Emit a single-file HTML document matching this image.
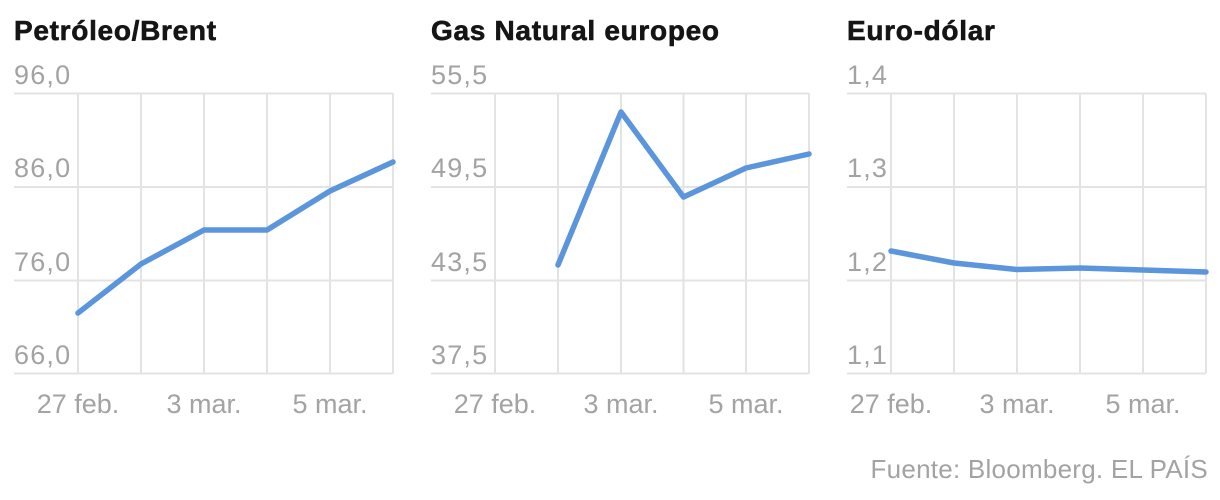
<!DOCTYPE html>
<html><head><meta charset="utf-8"><style>
html,body{margin:0;padding:0;background:#fff;}
svg{display:block;}
.t{font-family:"Liberation Sans",sans-serif;font-weight:bold;font-size:28px;fill:#151515;stroke:#151515;stroke-width:0.6px;letter-spacing:0.7px;}
.y{font-family:"Liberation Sans",sans-serif;font-size:27px;fill:#a3a3a3;letter-spacing:1.2px;}
.x{font-family:"Liberation Sans",sans-serif;font-size:27px;fill:#a3a3a3;}
.s{font-family:"Liberation Sans",sans-serif;font-size:26px;fill:#a3a3a3;letter-spacing:0.25px;}
.g{stroke:#e3e3e3;stroke-width:2;fill:none;}
.l{stroke:#5b95db;stroke-width:5.5;fill:none;stroke-linejoin:round;stroke-linecap:round;}
</style></head><body>
<svg width="1220" height="500" viewBox="0 0 1220 500" xmlns="http://www.w3.org/2000/svg">
<!-- Panel 1 -->
<text class="t" x="14" y="40">Petróleo/Brent</text>
<g class="g">
<line x1="14" y1="93.5" x2="393" y2="93.5"/>
<line x1="14" y1="187" x2="393" y2="187"/>
<line x1="14" y1="280.5" x2="393" y2="280.5"/>
<line x1="14" y1="373.5" x2="393" y2="373.5"/>
<line x1="78" y1="93.5" x2="78" y2="373.5"/>
<line x1="141" y1="93.5" x2="141" y2="373.5"/>
<line x1="204" y1="93.5" x2="204" y2="373.5"/>
<line x1="267" y1="93.5" x2="267" y2="373.5"/>
<line x1="330" y1="93.5" x2="330" y2="373.5"/>
<line x1="393" y1="93.5" x2="393" y2="373.5"/>
</g>
<text class="y" x="14" y="84">96,0</text>
<text class="y" x="14" y="177">86,0</text>
<text class="y" x="14" y="271">76,0</text>
<text class="y" x="14" y="364">66,0</text>
<text class="x" x="78" y="413" text-anchor="middle">27 feb.</text>
<text class="x" x="204" y="413" text-anchor="middle">3 mar.</text>
<text class="x" x="330" y="413" text-anchor="middle">5 mar.</text>
<polyline class="l" points="78,313 141,264 204,230 267,230 330,191 393,162"/>

<!-- Panel 2 -->
<text class="t" x="431" y="40">Gas Natural europeo</text>
<g class="g">
<line x1="431" y1="93.5" x2="809" y2="93.5"/>
<line x1="431" y1="187" x2="809" y2="187"/>
<line x1="431" y1="280.5" x2="809" y2="280.5"/>
<line x1="431" y1="373.5" x2="809" y2="373.5"/>
<line x1="495" y1="93.5" x2="495" y2="373.5"/>
<line x1="558" y1="93.5" x2="558" y2="373.5"/>
<line x1="621" y1="93.5" x2="621" y2="373.5"/>
<line x1="683.5" y1="93.5" x2="683.5" y2="373.5"/>
<line x1="746" y1="93.5" x2="746" y2="373.5"/>
<line x1="809" y1="93.5" x2="809" y2="373.5"/>
</g>
<text class="y" x="431" y="84">55,5</text>
<text class="y" x="431" y="177">49,5</text>
<text class="y" x="431" y="271">43,5</text>
<text class="y" x="431" y="364">37,5</text>
<text class="x" x="495" y="413" text-anchor="middle">27 feb.</text>
<text class="x" x="621" y="413" text-anchor="middle">3 mar.</text>
<text class="x" x="746" y="413" text-anchor="middle">5 mar.</text>
<polyline class="l" points="558,265 621,112 683.5,197 746,168 809,154"/>

<!-- Panel 3 -->
<text class="t" x="847" y="40">Euro-dólar</text>
<g class="g">
<line x1="847" y1="93.5" x2="1206" y2="93.5"/>
<line x1="847" y1="187" x2="1206" y2="187"/>
<line x1="847" y1="280.5" x2="1206" y2="280.5"/>
<line x1="847" y1="373.5" x2="1206" y2="373.5"/>
<line x1="891" y1="93.5" x2="891" y2="373.5"/>
<line x1="954" y1="93.5" x2="954" y2="373.5"/>
<line x1="1017" y1="93.5" x2="1017" y2="373.5"/>
<line x1="1080" y1="93.5" x2="1080" y2="373.5"/>
<line x1="1143" y1="93.5" x2="1143" y2="373.5"/>
<line x1="1206" y1="93.5" x2="1206" y2="373.5"/>
</g>
<text class="y" x="847" y="84">1,4</text>
<text class="y" x="847" y="177">1,3</text>
<text class="y" x="847" y="271">1,2</text>
<text class="y" x="847" y="364">1,1</text>
<text class="x" x="891" y="413" text-anchor="middle">27 feb.</text>
<text class="x" x="1017" y="413" text-anchor="middle">3 mar.</text>
<text class="x" x="1143" y="413" text-anchor="middle">5 mar.</text>
<polyline class="l" points="891,251 954,263 1017,269.5 1080,268 1143,270 1206,272"/>

<text class="s" x="1208" y="478" text-anchor="end">Fuente: Bloomberg. EL PAÍS</text>
</svg>
</body></html>
